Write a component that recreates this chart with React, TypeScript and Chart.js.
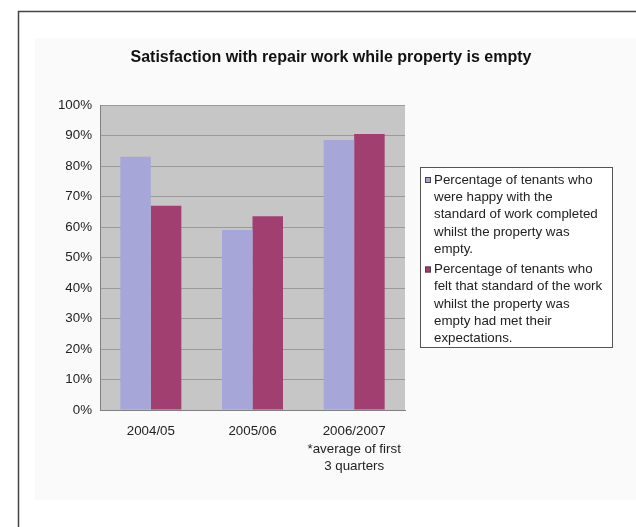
import { useEffect, useRef } from 'react';
import { Chart, registerables } from 'chart.js';

Chart.register(...registerables);

const titleText = 'Satisfaction with repair work while property is empty';
const categories: string[][] = [
  ['2004/05'],
  ['2005/06'],
  ['2006/2007', '*average of first', '3 quarters'],
];
const happyValues = [83, 59, 88.5];
const expectationValues = [67, 63.5, 90.5];
const yTickMin = 0;
const yTickMax = 100;
const yTickStep = 10;
const happyLegendLines = [
  'Percentage of tenants who',
  'were happy with the',
  'standard of work completed',
  'whilst the property was',
  'empty.',
];
const expectationLegendLines = [
  'Percentage of tenants who',
  'felt that standard of the work',
  'whilst the property was',
  'empty had met their',
  'expectations.',
];
const happyColor = '#a6a6d8';
const expectationColor = '#a03f70';

const FONT = '"Liberation Sans", Arial, sans-serif';

const backgroundPlugin = {
  id: 'bgPlugin',
  beforeDraw(chart: any) {
    const { ctx, chartArea } = chart;
    ctx.save();
    ctx.fillStyle = '#ffffff';
    ctx.fillRect(0, 0, chart.width, chart.height);
    ctx.fillStyle = '#fafafa';
    ctx.fillRect(35, 38, chart.width - 35, 462);
    ctx.strokeStyle = '#444444';
    ctx.lineWidth = 1.5;
    ctx.beginPath();
    ctx.moveTo(18.5, chart.height);
    ctx.lineTo(18.5, 11.5);
    ctx.lineTo(chart.width, 11.5);
    ctx.stroke();
    ctx.fillStyle = '#c6c6c6';
    ctx.fillRect(chartArea.left, chartArea.top, chartArea.right - chartArea.left, chartArea.bottom - chartArea.top);
    ctx.restore();
  },
};

const titlePlugin = {
  id: 'centeredTitle',
  afterDraw(chart: any) {
    const { ctx } = chart;
    ctx.save();
    ctx.font = `bold 16px ${FONT}`;
    ctx.fillStyle = '#111111';
    ctx.textAlign = 'center';
    ctx.textBaseline = 'middle';
    ctx.fillText(titleText, 331, 58);
    ctx.restore();
  },
};

const legendPlugin = {
  id: 'wrapLegend',
  afterDraw(chart: any) {
    const { ctx } = chart;
    const items = [
      { lines: happyLegendLines, color: happyColor },
      { lines: expectationLegendLines, color: expectationColor },
    ];
    const boxX = 420;
    const boxY = 167;
    const boxW = 192;
    const boxH = 180;
    const lineH = 17.3;
    ctx.save();
    ctx.fillStyle = '#ffffff';
    ctx.fillRect(boxX, boxY, boxW, boxH);
    ctx.strokeStyle = '#555555';
    ctx.lineWidth = 1;
    ctx.strokeRect(boxX + 0.5, boxY + 0.5, boxW, boxH);
    ctx.font = `13.33px ${FONT}`;
    ctx.textBaseline = 'middle';
    ctx.textAlign = 'left';
    let y = 180;
    items.forEach((item) => {
      ctx.fillStyle = item.color;
      ctx.fillRect(boxX + 5, y - 3, 6, 6);
      ctx.strokeStyle = '#444';
      ctx.strokeRect(boxX + 5.5, y - 2.5, 5, 5);
      ctx.fillStyle = '#222222';
      item.lines.forEach((line) => {
        ctx.fillText(line, boxX + 14, y);
        y += lineH;
      });
      y += 3;
    });
    ctx.restore();
  },
};

export default function App() {
  const canvasRef = useRef<HTMLCanvasElement | null>(null);

  useEffect(() => {
    if (!canvasRef.current) return;
    const chart = new Chart(canvasRef.current, {
      type: 'bar',
      data: {
        labels: categories,
        datasets: [
          {
            label: happyLegendLines.join(' '),
            data: happyValues,
            backgroundColor: happyColor,
            categoryPercentage: 0.6,
            barPercentage: 1,
          },
          {
            label: expectationLegendLines.join(' '),
            data: expectationValues,
            backgroundColor: expectationColor,
            categoryPercentage: 0.6,
            barPercentage: 1,
          },
        ],
      },
      options: {
        responsive: false,
        animation: false,
        layout: { padding: { left: 50, right: 231, top: 105, bottom: 40 } },
        plugins: {
          legend: { display: false },
          tooltip: { enabled: false },
          title: { display: false },
        },
        scales: {
          x: {
            grid: { display: false, drawTicks: false },
            border: { display: true, color: '#808080' },
            ticks: {
              color: '#222222',
              font: { family: FONT, size: 13.33, lineHeight: 1.3 },
              padding: 13,
              maxRotation: 0,
              autoSkip: false,
            },
            afterFit(scale: any) {
              scale.height = 77;
            },
          },
          y: {
            min: yTickMin,
            max: yTickMax,
            grid: { color: '#9a9a9a', drawTicks: false },
            border: { display: true, color: '#808080' },
            ticks: {
              stepSize: yTickStep,
              color: '#222222',
              font: { family: FONT, size: 13.33 },
              padding: 8,
              callback: (v: any) => `${v}%`,
            },
            afterFit(scale: any) {
              scale.width = 50;
            },
          },
        },
      },
      plugins: [backgroundPlugin, titlePlugin, legendPlugin],
    });
    return () => chart.destroy();
  }, []);

  return (
    <div style={{ position: 'fixed', left: 0, top: 0, width: 636, height: 527, background: '#fff' }}>
      <canvas ref={canvasRef} width={636} height={527} style={{ display: 'block' }} />
    </div>
  );
}
